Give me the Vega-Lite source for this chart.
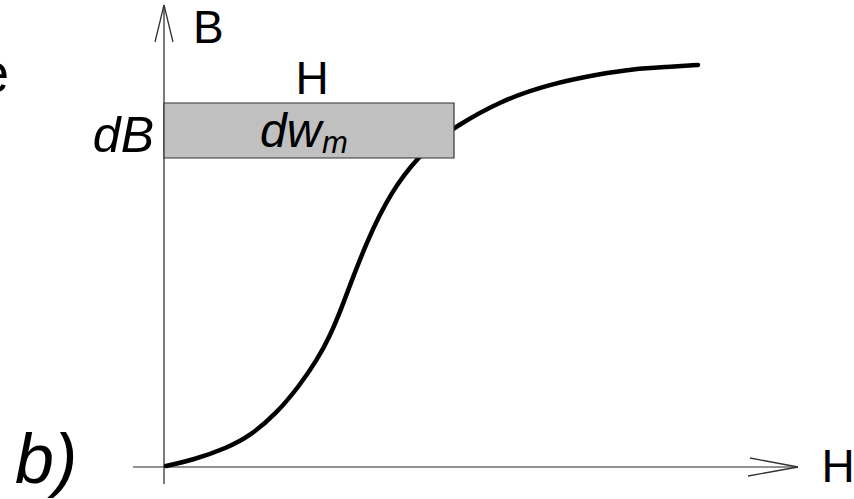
{
  "$schema": "https://vega.github.io/schema/vega-lite/v6.json",
  "width": 854,
  "height": 499,
  "autosize": {"type": "none"},
  "padding": 0,
  "background": "white",
  "config": {"view": {"stroke": null}},
  "datasets": {
    "curve": [
      {"H": 2, "B": 1}, {"H": 29, "B": 7}, {"H": 63, "B": 19}, {"H": 86, "B": 31},
      {"H": 113, "B": 54}, {"H": 136, "B": 82}, {"H": 153, "B": 107}, {"H": 166, "B": 131},
      {"H": 178, "B": 160}, {"H": 189, "B": 190}, {"H": 203, "B": 225}, {"H": 216, "B": 253},
      {"H": 229, "B": 276}, {"H": 240, "B": 292}, {"H": 254, "B": 309}, {"H": 272, "B": 326},
      {"H": 291, "B": 340}, {"H": 336, "B": 366}, {"H": 386, "B": 383}, {"H": 436, "B": 393},
      {"H": 469, "B": 398}, {"H": 503, "B": 400}, {"H": 534, "B": 402}
    ],
    "axes": [
      {"x": -31, "y": 0, "x2": 634, "y2": 0, "c": "h"},
      {"x": 0, "y": -17, "x2": 0, "y2": 462, "c": "v"},
      {"x": -9, "y": 425, "x2": 0, "y2": 462, "c": "v"},
      {"x": 9, "y": 425, "x2": 0, "y2": 462, "c": "v"},
      {"x": 586, "y": 9, "x2": 634, "y2": 0, "c": "v"},
      {"x": 584, "y": -9, "x2": 634, "y2": 0, "c": "v"}
    ],
    "box": [{"x": 0, "x2": 290, "y": 309, "y2": 364}],
    "labels": [
      {"t": "B", "H": 29, "B": 424, "size": 46, "g": "nl"},
      {"t": "H", "H": 148, "B": 373, "size": 46, "g": "nc"},
      {"t": "H", "H": 674, "B": -15, "size": 46, "g": "nc"},
      {"t": "e", "H": -155, "B": 375, "size": 55, "g": "nr"},
      {"t": "dB", "H": -10, "B": 315, "size": 50, "g": "ir"},
      {"t": "dw", "H": 96, "B": 320, "size": 48, "g": "il"},
      {"t": "m", "H": 158, "B": 314, "size": 31, "g": "il"},
      {"t": "b)", "H": -149, "B": -16, "size": 70, "g": "il"}
    ]
  },
  "encoding": {
    "x": {"type": "quantitative", "scale": {"domain": [-164, 690], "nice": false, "zero": false}, "axis": null},
    "y": {"type": "quantitative", "scale": {"domain": [-32, 467], "nice": false, "zero": false}, "axis": null}
  },
  "layer": [
    {
      "data": {"name": "axes"},
      "mark": {"type": "rule", "strokeWidth": 1.3},
      "encoding": {
        "x": {"field": "x", "type": "quantitative"},
        "y": {"field": "y", "type": "quantitative"},
        "x2": {"field": "x2"},
        "y2": {"field": "y2"},
        "color": {"field": "c", "type": "nominal", "scale": {"domain": ["h", "v"], "range": ["#6e6e6e", "#333333"]}, "legend": null}
      }
    },
    {
      "data": {"name": "curve"},
      "mark": {"type": "line", "color": "black", "strokeWidth": 4.5, "interpolate": "basis", "strokeCap": "round"},
      "encoding": {
        "x": {"field": "H", "type": "quantitative"},
        "y": {"field": "B", "type": "quantitative"},
        "order": {"field": "H", "type": "quantitative"}
      }
    },
    {
      "data": {"name": "box"},
      "mark": {"type": "rect", "fill": "#c0c0c0", "stroke": "#333333", "strokeWidth": 1.2},
      "encoding": {
        "x": {"field": "x", "type": "quantitative"},
        "x2": {"field": "x2"},
        "y": {"field": "y", "type": "quantitative"},
        "y2": {"field": "y2"}
      }
    },
    {
      "data": {"name": "labels"},
      "transform": [{"filter": "datum.g === 'nl'"}],
      "mark": {"type": "text", "font": "Liberation Sans", "color": "black", "baseline": "alphabetic", "align": "left"},
      "encoding": {
        "x": {"field": "H", "type": "quantitative"},
        "y": {"field": "B", "type": "quantitative"},
        "text": {"field": "t"},
        "size": {"field": "size", "type": "quantitative", "scale": null}
      }
    },
    {
      "data": {"name": "labels"},
      "transform": [{"filter": "datum.g === 'nc'"}],
      "mark": {"type": "text", "font": "Liberation Sans", "color": "black", "baseline": "alphabetic", "align": "center"},
      "encoding": {
        "x": {"field": "H", "type": "quantitative"},
        "y": {"field": "B", "type": "quantitative"},
        "text": {"field": "t"},
        "size": {"field": "size", "type": "quantitative", "scale": null}
      }
    },
    {
      "data": {"name": "labels"},
      "transform": [{"filter": "datum.g === 'nr'"}],
      "mark": {"type": "text", "font": "Liberation Sans", "color": "black", "baseline": "alphabetic", "align": "right"},
      "encoding": {
        "x": {"field": "H", "type": "quantitative"},
        "y": {"field": "B", "type": "quantitative"},
        "text": {"field": "t"},
        "size": {"field": "size", "type": "quantitative", "scale": null}
      }
    },
    {
      "data": {"name": "labels"},
      "transform": [{"filter": "datum.g === 'ir'"}],
      "mark": {"type": "text", "font": "Liberation Sans", "fontStyle": "italic", "color": "black", "baseline": "alphabetic", "align": "right"},
      "encoding": {
        "x": {"field": "H", "type": "quantitative"},
        "y": {"field": "B", "type": "quantitative"},
        "text": {"field": "t"},
        "size": {"field": "size", "type": "quantitative", "scale": null}
      }
    },
    {
      "data": {"name": "labels"},
      "transform": [{"filter": "datum.g === 'il'"}],
      "mark": {"type": "text", "font": "Liberation Sans", "fontStyle": "italic", "color": "black", "baseline": "alphabetic", "align": "left"},
      "encoding": {
        "x": {"field": "H", "type": "quantitative"},
        "y": {"field": "B", "type": "quantitative"},
        "text": {"field": "t"},
        "size": {"field": "size", "type": "quantitative", "scale": null}
      }
    }
  ]
}
